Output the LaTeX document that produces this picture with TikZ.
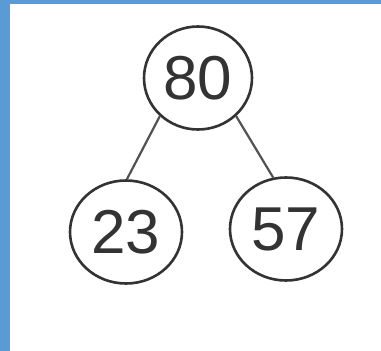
\documentclass[tikz,border=0pt]{standalone}
\usepackage{fontspec}
\setmainfont{Liberation Sans}
\usetikzlibrary{shapes.geometric}
\definecolor{framebl}{HTML}{5B9BD5}
\definecolor{ink}{HTML}{333333}
\begin{document}
\begin{tikzpicture}[x=1pt,y=1pt,
  keynode/.style={draw=ink, line width=2.6pt, ellipse, minimum width=108pt, minimum height=103pt, inner sep=0pt, font=\fontsize{62}{62}\selectfont, text=ink},
  edge/.style={draw=ink!85, line width=2.2pt}]
\useasboundingbox (0,0) rectangle (381,351);
\fill[white] (0,0) rectangle (381,351);
\fill[framebl] (0,347) rectangle (381,351);
\fill[framebl] (0,0) rectangle (10,351);
\node[keynode] (r) at (198,273) {80};
\node[keynode, minimum width=112pt] (l) at (126,119) {23};
\node[keynode, minimum width=112pt] (rr) at (286,122) {57};
\draw[edge] (r.225) -- (l.89);
\draw[edge] (r.-45) -- (rr.104);
\end{tikzpicture}
\end{document}
